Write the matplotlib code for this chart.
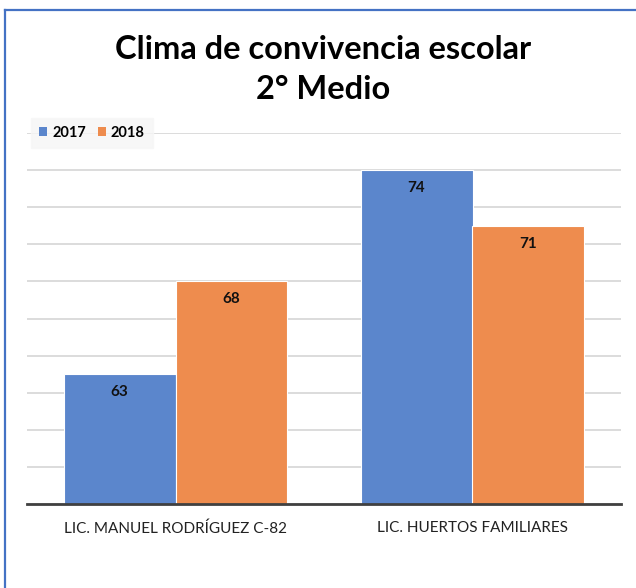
import numpy as np
import matplotlib.pyplot as plt
from matplotlib.lines import Line2D
from matplotlib.patches import Patch

# data
categories = ['LIC. MANUEL RODRÍGUEZ C-82', 'LIC. HUERTOS FAMILIARES']
years = ['2017', '2018']
values_2017 = [63, 74]
values_2018 = [68, 71]

blue = '#5B86CC'
orange = '#EE8C4E'

fig = plt.figure(figsize=(6.36, 5.88), dpi=100)
ax = fig.add_axes([27 / 636, 84 / 588, 594 / 636, 371 / 588])

x = np.arange(len(categories))
w = 0.377
b1 = ax.bar(x - w / 2, values_2017, w, bottom=0, color=blue, edgecolor='white', linewidth=0.8, zorder=3)
b2 = ax.bar(x + w / 2, values_2018, w, bottom=0, color=orange, edgecolor='white', linewidth=0.8, zorder=3)

ax.set_ylim(56, 76)
ax.set_xlim(-0.5, 1.5)
ax.set_yticks(np.arange(56, 77, 2))
ax.yaxis.grid(True, color='#d9d9d9', linewidth=1.3, zorder=0)
ax.set_axisbelow(True)
ax.tick_params(left=False, labelleft=False, bottom=False)
for s in ['top', 'right', 'left']:
    ax.spines[s].set_visible(False)
ax.spines['bottom'].set_color('#404040')
ax.spines['bottom'].set_linewidth(2)
ax.spines['bottom'].set_zorder(4)

ax.set_xticks(x)
ax.set_xticklabels(categories, fontsize=11, family='Lato', color='#222222')
ax.tick_params(axis='x', pad=9)

# value labels inside bar tops
for bars, vals in [(b1, values_2017), (b2, values_2018)]:
    for r, v in zip(bars, vals):
        ax.annotate(str(v), (r.get_x() + r.get_width() / 2, v), xytext=(0, -13),
                    textcoords='offset points', ha='center', va='center',
                    fontsize=11, fontweight='bold', family='Lato', color='#111111', zorder=5)

fig.text(0.508, 0.915, 'Clima de convivencia escolar', ha='center', va='center',
         fontsize=23.5, fontweight='bold', family='Lato')
fig.text(0.508, 0.848, '2° Medio', ha='center', va='center',
         fontsize=23.5, fontweight='bold', family='Lato')

handles = [Patch(facecolor=blue), Patch(facecolor=orange)]
leg = fig.legend(handles, years, loc='center left', bbox_to_anchor=(24 / 636, 1 - 133 / 588),
                 ncol=2, frameon=True, prop={'weight': 'bold', 'family': 'Lato', 'size': 10.5},
                 handlelength=0.55, handleheight=0.55, handletextpad=0.35, columnspacing=0.8,
                 borderpad=0.55, fancybox=False)
leg.get_frame().set_facecolor('#f6f6f6')
leg.get_frame().set_edgecolor('#f6f6f6')

# blue frame, only left and top edges visible
fig.add_artist(Line2D([5 / 636, 5 / 636], [0, 1 - 10 / 588], color='#4472C4', linewidth=1.6))
fig.add_artist(Line2D([5 / 636, 1], [1 - 10 / 588, 1 - 10 / 588], color='#4472C4', linewidth=1.6))

fig.savefig('out.png', dpi=100)
